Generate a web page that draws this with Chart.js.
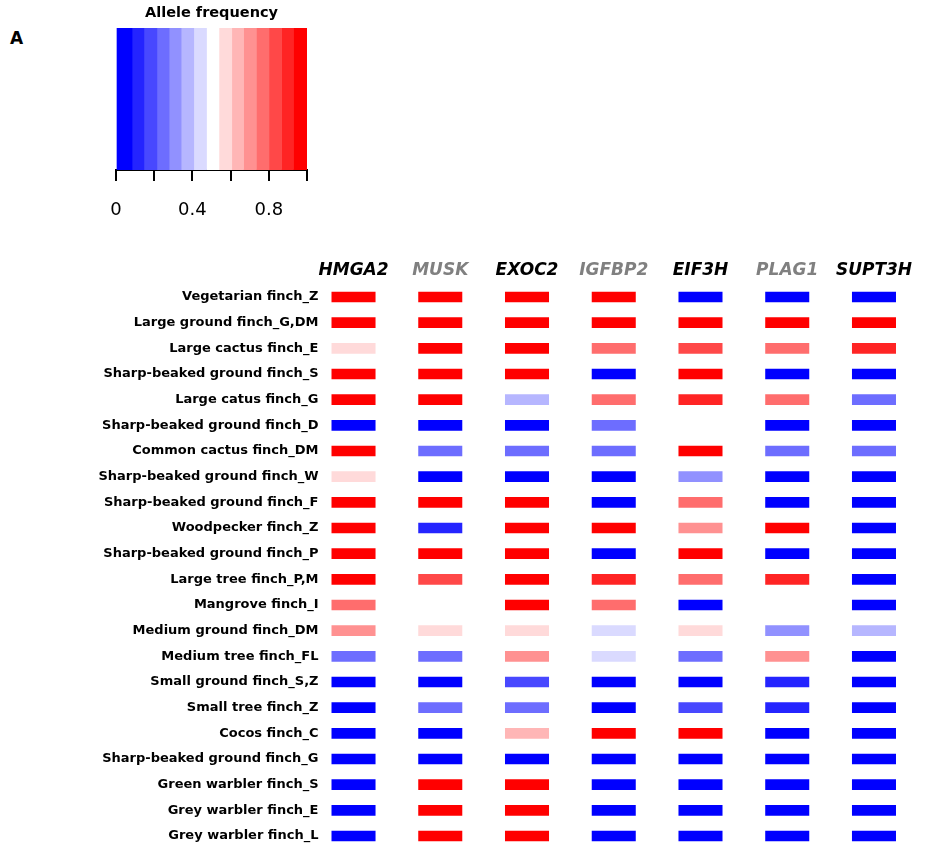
<!DOCTYPE html>
<html>
<head>
<meta charset="utf-8">
<script src="https://cdn.jsdelivr.net/npm/chart.js@4"></script>
<style>
  html, body { margin: 0; padding: 0; background: #fff; overflow: hidden; }
  #page { position: relative; width: 926px; height: 845px; font-family: "DejaVu Sans", sans-serif; }
  #panel { position: absolute; left: 10px; top: 30px; font: bold 17px/17px "DejaVu Sans", sans-serif; color: #000; }
  #legendWrap { position: absolute; left: 60px; top: 0; width: 303px; height: 230px; }
  #heatWrap { position: absolute; left: 0; top: 240px; width: 926px; height: 605px; }
</style>
</head>
<body>
<div id="page">
  <div id="panel">A</div>
  <div id="legendWrap"><canvas id="legendChart"></canvas></div>
  <div id="heatWrap"><canvas id="heatChart"></canvas></div>
</div>
<script>
// data
const species = [
  "Vegetarian finch_Z", "Large ground finch_G,DM", "Large cactus finch_E",
  "Sharp-beaked ground finch_S", "Large catus finch_G", "Sharp-beaked ground finch_D",
  "Common cactus finch_DM", "Sharp-beaked ground finch_W", "Sharp-beaked ground finch_F",
  "Woodpecker finch_Z", "Sharp-beaked ground finch_P", "Large tree finch_P,M",
  "Mangrove finch_I", "Medium ground finch_DM", "Medium tree finch_FL",
  "Small ground finch_S,Z", "Small tree finch_Z", "Cocos finch_C",
  "Sharp-beaked ground finch_G", "Green warbler finch_S", "Grey warbler finch_E",
  "Grey warbler finch_L"
];
const genes = ["HMGA2", "MUSK", "EXOC2", "IGFBP2", "EIF3H", "PLAG1", "SUPT3H"];

// allele frequency per gene, one value per species (null = no data)
const hmga2  = [1, 1, 0.57, 1, 1, 0, 1, 0.57, 1, 1, 1, 1, 0.77, 0.70, 0.25, 0, 0, 0, 0, 0, 0, 0];
const musk   = [1, 1, 1, 1, 1, 0, 0.25, 0, 1, 0.11, 1, 0.83, null, 0.57, 0.25, 0, 0.25, 0, 0, 1, 1, 1];
const exoc2  = [1, 1, 1, 1, 0.37, 0, 0.25, 0, 1, 1, 1, 1, 1, 0.57, 0.70, 0.18, 0.25, 0.64, 0, 1, 1, 1];
const igfbp2 = [1, 1, 0.77, 0, 0.77, 0.25, 0.25, 0, 0, 1, 0, 0.90, 0.77, 0.44, 0.44, 0, 0, 1, 0, 0, 0, 0];
const eif3h  = [0, 1, 0.83, 1, 0.90, null, 1, 0.31, 0.77, 0.70, 1, 0.77, 0, 0.57, 0.25, 0, 0.18, 1, 0, 0, 0, 0];
const plag1  = [0, 1, 0.77, 0, 0.77, 0, 0.25, 0, 0, 1, 0, 0.90, null, 0.31, 0.70, 0.11, 0.11, 0, 0, 0, 0, 0];
const supt3h = [0, 1, 0.90, 0, 0.25, 0, 0.25, 0, 0, 0, 0, 0, 0, 0.37, 0, 0, 0, 0, 0, 0, 0, 0];
const freqs = [hmga2, musk, exoc2, igfbp2, eif3h, plag1, supt3h];

// colour key: bin edges and tick labels
const binEdges = [0, 0.084, 0.146, 0.214, 0.278, 0.341, 0.407, 0.474, 0.539, 0.606, 0.668, 0.735, 0.801, 0.867, 0.929, 1];
const keyTicks = [0, 0.2, 0.4, 0.6, 0.8, 1];
const keyLabels = ["0", "", "0.4", "", "0.8", ""];

// styles
const palette = [
  "#0000FF", "#2424FF", "#4848FF", "#6D6DFF", "#9191FF", "#B6B6FF", "#DADAFF", "#FFFFFF",
  "#FFDADA", "#FFB6B6", "#FF9191", "#FF6D6D", "#FF4848", "#FF2424", "#FF0000"
];
const geneColors = ["#000", "#808080", "#000", "#808080", "#000", "#808080", "#000"];
const FONT = "'DejaVu Sans', sans-serif";

function colorFor(v) {
  for (let i = 0; i < palette.length; i++) {
    if (v < binEdges[i + 1]) return palette[i];
  }
  return palette[palette.length - 1];
}

// colour key
new Chart(document.getElementById("legendChart"), {
  type: "bar",
  data: {
    labels: [""],
    datasets: palette.map((c, i) => ({
      data: [binEdges[i + 1] - binEdges[i]],
      backgroundColor: c,
      borderWidth: 0,
      barPercentage: 1,
      categoryPercentage: 1,
    })),
  },
  options: {
    indexAxis: "y",
    responsive: true,
    maintainAspectRatio: false,
    animation: false,
    layout: { padding: { left: 56, right: 56, top: 0, bottom: 0 } },
    plugins: {
      legend: { display: false },
      tooltip: { enabled: false },
      title: {
        display: true,
        text: "Allele frequency",
        color: "#000",
        font: { family: FONT, size: 14.5, weight: "bold" },
        padding: { top: 5, bottom: 5.6 },
      },
    },
    scales: {
      x: {
        type: "linear",
        stacked: true,
        min: 0,
        max: 1,
        afterBuildTicks: (s) => { s.ticks = keyTicks.map((v) => ({ value: v })); },
        afterFit: (s) => { s.height = 60; },
        ticks: {
          callback: (v, i) => keyLabels[i],
          color: "#000",
          font: { family: FONT, size: 18 },
          padding: 19,
          maxRotation: 0,
        },
        grid: { drawOnChartArea: false, drawTicks: true, tickLength: 11, color: "#000", lineWidth: 2 },
        border: { display: true, color: "#000", width: 2 },
      },
      y: { stacked: true, display: false },
    },
  },
});

// heatmap
new Chart(document.getElementById("heatChart"), {
  type: "bar",
  data: {
    labels: species,
    datasets: freqs.map((vals, g) => ({
      label: genes[g],
      data: vals.map((v) => (v == null ? null : [g - 0.25, g + 0.25])),
      backgroundColor: vals.map((v) => (v == null ? "rgba(0,0,0,0)" : colorFor(v))),
      borderWidth: 0,
      barThickness: 10,
      grouped: false,
      clip: false,
    })),
  },
  options: {
    indexAxis: "y",
    responsive: true,
    maintainAspectRatio: false,
    animation: false,
    layout: { padding: { left: 0, right: 26, top: 0, bottom: 9 } },
    plugins: {
      legend: { display: false },
      tooltip: { enabled: false },
    },
    scales: {
      x: {
        type: "linear",
        position: "top",
        min: -0.3,
        max: 6.3,
        afterBuildTicks: (s) => { s.ticks = genes.map((g, i) => ({ value: i })); },
        afterFit: (s) => { s.height = 57; s.paddingLeft = 0; s.paddingRight = 0; },
        ticks: {
          callback: (v, i) => genes[i],
          color: (ctx) => geneColors[ctx.index],
          font: { family: FONT, size: 17, weight: "bold", style: "italic" },
          padding: 16,
          maxRotation: 0,
        },
        grid: { display: false, drawTicks: false },
        border: { display: false },
      },
      y: {
        type: "category",
        offset: false,
        afterFit: (s) => { s.width = 327.5; s.paddingTop = 0; s.paddingBottom = 0; },
        ticks: {
          autoSkip: false,
          color: "#000",
          font: { family: FONT, size: 13, weight: "bold" },
          padding: 9,
        },
        grid: { display: false, drawTicks: false },
        border: { display: false },
      },
    },
  },
});
</script>
</body>
</html>
